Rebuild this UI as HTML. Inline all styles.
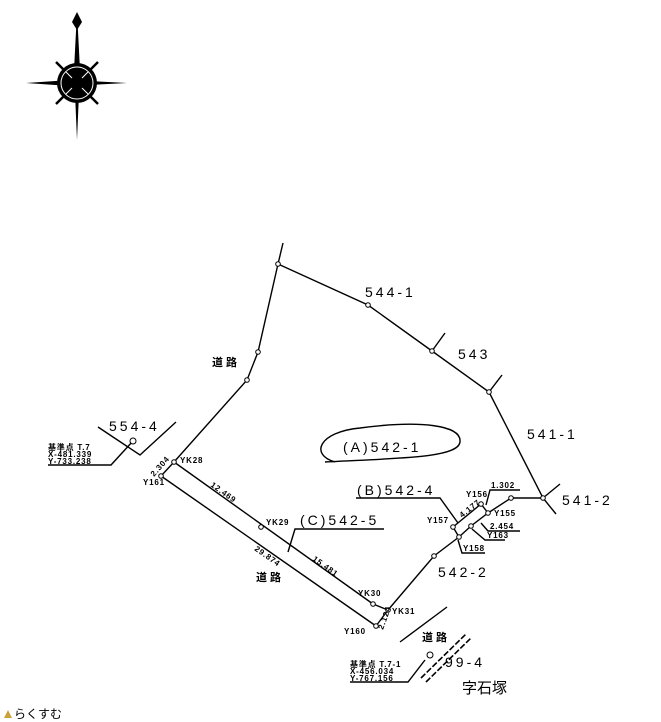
<!DOCTYPE html>
<html><head><meta charset="utf-8"><style>
html,body{margin:0;padding:0;background:#fff;}
svg{display:block;}
text{font-family:"Liberation Sans","Noto Sans CJK JP",sans-serif;fill:#000;}
</style></head><body>
<svg width="661" height="722" viewBox="0 0 661 722" xmlns="http://www.w3.org/2000/svg">
<!-- compass -->
<g fill="#000">
<circle cx="77" cy="83" r="20"/>
<polygon points="77,12 80,70 77,140 74,70"/>
<polygon points="26,83 70,80 127,83 70,86"/>
<polygon points="77,12 82,22 77,30 72,22"/>
<line x1="56" y1="62" x2="98" y2="104" stroke="#000" stroke-width="2.5"/>
<line x1="98" y1="62" x2="56" y2="104" stroke="#000" stroke-width="2.5"/>
</g>
<g stroke="#fff" stroke-width="1" fill="none">
<line x1="66" y1="72" x2="72" y2="78"/><line x1="88" y1="72" x2="82" y2="78"/>
<line x1="66" y1="94" x2="72" y2="88"/><line x1="88" y1="94" x2="82" y2="88"/>
<circle cx="77" cy="83" r="16"/>
</g>
<g stroke="#000" stroke-width="1.4" fill="none">
<polyline points="283,243 278,264 258,352 247,380 174,462"/>
<polyline points="278,264 368,305 432,351 489,392 543,498 556,514"/>
<line x1="432" y1="351" x2="445" y2="333"/>
<line x1="489" y1="392" x2="502" y2="375"/>
<line x1="543" y1="498" x2="560" y2="484"/>
<line x1="511" y1="498" x2="543" y2="498"/>
<polyline points="511,498 488,513 471,526 459,537 434,556 388,610"/>
<polyline points="488,513 481,504 453,527 459,537"/>
<line x1="174" y1="462" x2="161" y2="476"/>
<line x1="161" y1="476" x2="376" y2="626"/>
<line x1="174" y1="462" x2="373" y2="604"/>
<line x1="373" y1="604" x2="388" y2="610"/>
<line x1="388" y1="610" x2="376" y2="626"/>
<polyline points="98,427 140,455 176,422"/>
<polyline points="48,465 111,465 133,441"/>
<line x1="400" y1="642" x2="447" y2="607"/>
<line x1="421" y1="678" x2="466" y2="634" stroke-dasharray="6,2" stroke-width="1.6"/>
<line x1="426" y1="682" x2="471" y2="638" stroke-dasharray="6,2" stroke-width="1.6"/>
<polyline points="350,682 408,682 425,660"/>
<path d="M335,462 C310,455 318,432 360,428 C420,420 462,425 460,442 C458,458 400,458 325,462"/>
<polyline points="356,498 440,498 458,523"/>
<polyline points="384,529 295,529 288,552"/>
<polyline points="520,490 490,490 486,505"/>
<polyline points="520,531 488,531 481,523"/>
<polyline points="505,540 485,540 472,529"/>
<polyline points="485,553 462,553 458,540"/>
</g>
<g fill="#fff" stroke="#000" stroke-width="1">
<circle cx="278" cy="264" r="2.3"/><circle cx="368" cy="305" r="2.3"/><circle cx="432" cy="351" r="2.3"/><circle cx="489" cy="392" r="2.3"/>
<circle cx="543" cy="498" r="2.3"/><circle cx="511" cy="498" r="2.3"/><circle cx="488" cy="513" r="2.3"/><circle cx="481" cy="504" r="2.3"/>
<circle cx="471" cy="526" r="2.3"/><circle cx="459" cy="537" r="2.3"/><circle cx="453" cy="527" r="2.3"/><circle cx="434" cy="556" r="2.3"/>
<circle cx="388" cy="610" r="2.3"/><circle cx="373" cy="604" r="2.3"/><circle cx="376" cy="626" r="2.3"/><circle cx="161" cy="476" r="2.3"/>
<circle cx="174" cy="462" r="2.3"/><circle cx="261" cy="527" r="2.3"/><circle cx="258" cy="352" r="2.3"/><circle cx="247" cy="380" r="2.3"/>
<circle cx="133" cy="441" r="3"/><circle cx="430" cy="655" r="3"/>
</g>
<g font-size="14" letter-spacing="3">
<text x="365" y="297">544-1</text>
<text x="458" y="359">543</text>
<text x="527" y="439">541-1</text>
<text x="562" y="505">541-2</text>
<text x="109" y="431">554-4</text>
<text x="343" y="452">(A)542-1</text>
<text x="357" y="495">(B)542-4</text>
<text x="300" y="525">(C)542-5</text>
<text x="438" y="577">542-2</text>
<text x="445" y="667">99-4</text>
<text x="462" y="693" font-size="15" letter-spacing="0">字石塚</text>
</g>
<g font-size="11" font-weight="bold">
<text x="212" y="366">道 路</text>
<text x="256" y="581">道 路</text>
<text x="422" y="641">道 路</text>
</g>
<g font-size="8" font-weight="bold" letter-spacing="0.8">
<text x="180" y="463">YK28</text>
<text x="143" y="485">Y161</text>
<text x="266" y="525">YK29</text>
<text x="358" y="596">YK30</text>
<text x="392" y="614">YK31</text>
<text x="344" y="634">Y160</text>
<text x="466" y="497">Y156</text>
<text x="494" y="516">Y155</text>
<text x="427" y="523">Y157</text>
<text x="487" y="538">Y163</text>
<text x="463" y="551">Y158</text>
<text x="491" y="488">1.302</text>
<text x="490" y="529">2.454</text>
<text x="48" y="450">基準点 T.7</text>
<text x="48" y="457">X-481.339</text>
<text x="48" y="464">Y-733.238</text>
<text x="350" y="667">基準点 T.7-1</text>
<text x="350" y="674">X-456.034</text>
<text x="350" y="681">Y-767.156</text>
<text transform="translate(154,477) rotate(-48)">2.304</text>
<text transform="translate(210,486) rotate(35.6)">12.469</text>
<text transform="translate(254,550) rotate(35)">29.874</text>
<text transform="translate(312,560) rotate(35.6)">15.481</text>
<text transform="translate(383,630) rotate(-70)">2.124</text>
<text transform="translate(462,518) rotate(-38)">4.177</text>
</g>
<text x="14" y="718" font-size="12" fill="#666">らくすむ</text>
<polygon points="4,718 8,710 12,718" fill="#c9a23a"/>
</svg>
</body></html>
